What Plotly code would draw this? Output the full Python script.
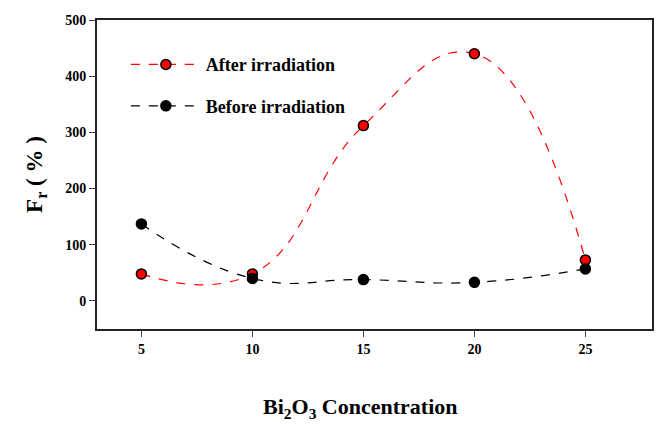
import plotly.graph_objects as go

conc = [5, 10, 15, 20, 25]
after_irr = [48, 48, 312, 440, 73]
before_irr = [137, 40, 38, 33, 57]
x_ticks = [5, 10, 15, 20, 25]
y_ticks = [0, 100, 200, 300, 400, 500]

fig = go.Figure()
fig.add_trace(go.Scatter(
    x=conc, y=after_irr, mode="lines+markers", name="After irradiation",
    legendgroup="a",
    line=dict(color="#ff0000", width=1.2, dash="dash", shape="spline", smoothing=1.3),
    marker=dict(size=10, color="#ff0000", line=dict(color="black", width=1.5)),
))
fig.add_trace(go.Scatter(
    x=conc, y=before_irr, mode="lines+markers", name="Before irradiation",
    legendgroup="b",
    line=dict(color="black", width=1.2, dash="dash", shape="spline", smoothing=1.3),
    marker=dict(size=10, color="black", line=dict(color="black", width=1.5)),
))

font_fam = "Liberation Serif"
fig.update_layout(
    width=656, height=425,
    margin=dict(l=97, r=2, t=20, b=96),
    paper_bgcolor="white", plot_bgcolor="white",
    font=dict(family=font_fam, color="black"),
    showlegend=True,
    legend=dict(x=0.052, y=0.915, xanchor="left", yanchor="top",
                bgcolor="rgba(0,0,0,0)",
                font=dict(size=18, family=font_fam, weight="bold"),
                itemwidth=70, traceorder="grouped", tracegroupgap=15),
    xaxis=dict(range=[3, 28], tickvals=x_ticks, ticks="outside", ticklen=6,
               showgrid=False, zeroline=False, showline=True, linecolor="#222",
               linewidth=2, mirror=True,
               tickfont=dict(size=14, family=font_fam, weight="bold")),
    yaxis=dict(range=[-50, 500], tickvals=y_ticks, ticks="outside", ticklen=6,
               showgrid=False, zeroline=False, showline=True, linecolor="#222",
               linewidth=2, mirror=True,
               tickfont=dict(size=14, family=font_fam, weight="bold"),
               title=dict(text="F<sub>r</sub> ( % )",
                          font=dict(size=23, family=font_fam, weight="bold"), standoff=16)),
    annotations=[dict(text="Bi<sub>2</sub>O<sub>3</sub> Concentration",
                      xref="paper", yref="paper", x=0.474, y=-0.255,
                      xanchor="center", yanchor="middle", showarrow=False,
                      font=dict(size=22, family=font_fam, weight="bold"))],
)
fig.write_html("out.html")
